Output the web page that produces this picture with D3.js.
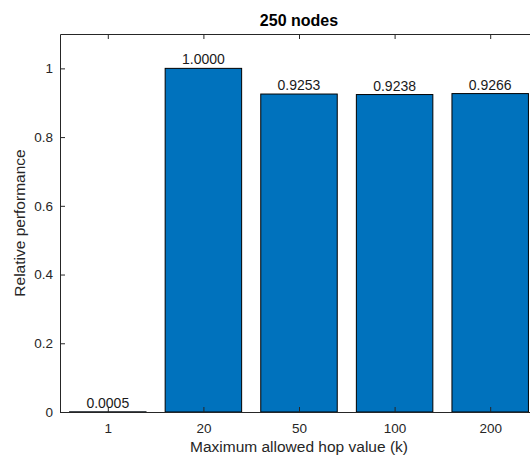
<!DOCTYPE html>
<html><head><meta charset="utf-8">
<script src="https://cdn.jsdelivr.net/npm/d3@7"></script>
<style>body{margin:0;background:#fff;overflow:hidden}svg{display:block}text{font-family:"Liberation Sans",Arial,sans-serif}</style>
</head><body>
<script>
const categories = ["1", "20", "50", "100", "200"];
const values = [0.0005, 1.0000, 0.9253, 0.9238, 0.9266];
const valueLabels = ["0.0005", "1.0000", "0.9253", "0.9238", "0.9266"];
const yTicks = [0, 0.2, 0.4, 0.6, 0.8, 1];
const yTickLabels = ["0", "0.2", "0.4", "0.6", "0.8", "1"];
const title = "250 nodes";
const xLabel = "Maximum allowed hop value (k)";
const yLabel = "Relative performance";

const W = 530, H = 458;
const mLeft = 60, mRight = 538, mTop = 34, mBottom = 412;
const axisColor = "#262626";

const svg = d3.select("body").append("svg").attr("width", W).attr("height", H);

const x = d3.scaleLinear().domain([0.5, categories.length + 0.5]).range([mLeft, mRight]);
const y = d3.scaleLinear().domain([0, 1.1]).range([mBottom, mTop]);
const bw = (x(1) - x(0)) * 0.8;

// bars
svg.append("g").selectAll("rect").data(values).join("rect")
  .attr("x", (d, i) => x(i + 1) - bw / 2)
  .attr("y", d => y(d))
  .attr("width", bw)
  .attr("height", d => y(0) - y(d))
  .attr("fill", "#0072BD")
  .attr("stroke", "#000")
  .attr("stroke-width", 1);

// axes
const xAxisB = d3.axisBottom(x).tickValues(d3.range(1, categories.length + 1))
  .tickFormat((d) => categories[d - 1]).tickSizeInner(-5).tickSizeOuter(0).tickPadding(11);
const gx = svg.append("g").attr("transform", `translate(0,${mBottom})`).call(xAxisB);
const xAxisT = d3.axisTop(x).tickValues(d3.range(1, categories.length + 1))
  .tickFormat("").tickSizeInner(-5).tickSizeOuter(0);
const gxt = svg.append("g").attr("transform", `translate(0,${mTop})`).call(xAxisT);
const yAxis = d3.axisLeft(y).tickValues(yTicks).tickFormat((d, i) => yTickLabels[i])
  .tickSizeInner(-5).tickSizeOuter(0).tickPadding(7);
const gy = svg.append("g").attr("transform", `translate(${mLeft},0)`).call(yAxis);

[gx, gxt, gy].forEach(g => {
  g.select(".domain").attr("stroke", axisColor);
  g.selectAll(".tick line").attr("stroke", axisColor);
  g.selectAll(".tick text").attr("fill", axisColor).attr("font-size", 13.5)
    .attr("font-family", '"Liberation Sans",Arial,sans-serif');
});

// value labels
svg.append("g").selectAll("text").data(values).join("text")
  .attr("x", (d, i) => x(i + 1))
  .attr("y", d => y(d) - 4)
  .attr("text-anchor", "middle")
  .attr("font-size", 14)
  .attr("fill", "#1a1a1a")
  .text((d, i) => valueLabels[i]);

// title
svg.append("text").attr("x", (mLeft + mRight) / 2).attr("y", 26)
  .attr("text-anchor", "middle").attr("font-size", 16).attr("font-weight", "bold")
  .attr("fill", "#000").text(title);

// x label
svg.append("text").attr("x", (mLeft + mRight) / 2).attr("y", 452)
  .attr("text-anchor", "middle").attr("font-size", 15.5).attr("fill", axisColor).text(xLabel);

// y label
svg.append("text").attr("transform", `translate(25,${(mTop + mBottom) / 2}) rotate(-90)`)
  .attr("text-anchor", "middle").attr("font-size", 15.5).attr("fill", axisColor).text(yLabel);
</script>
</body></html>
